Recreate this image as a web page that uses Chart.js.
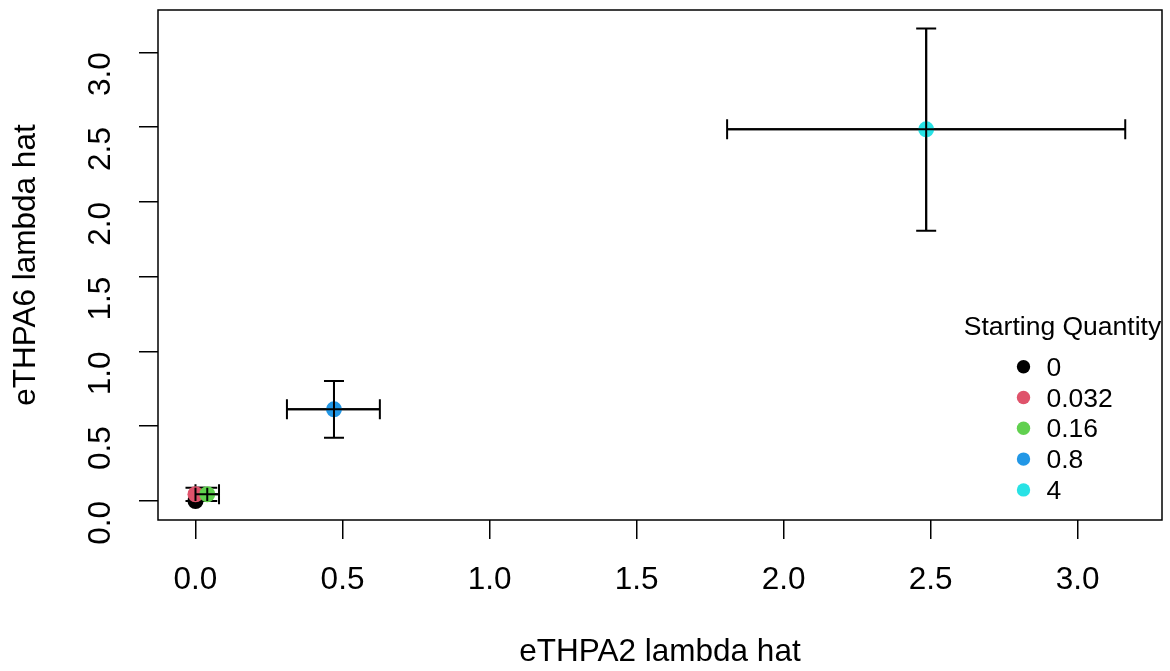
<!DOCTYPE html>
<html>
<head>
<meta charset="utf-8">
<script src="https://cdn.jsdelivr.net/npm/chart.js@4"></script>
<style>
  html, body { margin: 0; padding: 0; background: #fff; }
  #wrap { width: 1170px; height: 671px; }
</style>
</head>
<body>
<div id="wrap"><canvas id="c" width="1170" height="671"></canvas></div>
<script>
// values
const quantities = ['0', '0.032', '0.16', '0.8', '4'];
const colors = ['#000000', '#DF536B', '#61D04F', '#2297E6', '#28E2E5'];
const lambda2 = [0.0, 0.0, 0.04, 0.471, 2.485];
const lambda6 = [0.0, 0.045, 0.045, 0.613, 2.485];
const lambda2Low = [0.0, 0.0, 0.0, 0.311, 1.808];
const lambda2High = [0.0, 0.0, 0.08, 0.627, 3.162];
const lambda6Low = [0.0, 0.0, 0.0, 0.423, 1.807];
const lambda6High = [0.0, 0.089, 0.089, 0.802, 3.16];
const tickValues = [0, 0.5, 1.0, 1.5, 2.0, 2.5, 3.0];

const font = 'Liberation Sans, Arial, Helvetica, sans-serif';

function barPixels(chart, i) {
  const { x, y } = chart.scales;
  return {
    px: x.getPixelForValue(lambda2[i]),
    py: y.getPixelForValue(lambda6[i]),
    xl: x.getPixelForValue(lambda2Low[i]),
    xh: x.getPixelForValue(lambda2High[i]),
    yl: y.getPixelForValue(lambda6Low[i]),
    yh: y.getPixelForValue(lambda6High[i])
  };
}

// error bars: caps under the dots, the cross lines again on top
const errorBars = {
  id: 'errorBars',
  beforeDatasetsDraw(chart) {
    const ctx = chart.ctx;
    const cap = 10;
    ctx.save();
    ctx.strokeStyle = '#000';
    ctx.lineWidth = 2;
    for (let i = 0; i < quantities.length; i++) {
      const { px, py, xl, xh, yl, yh } = barPixels(chart, i);
      ctx.beginPath();
      if (xh - xl > 0.5) {
        ctx.moveTo(xl, py); ctx.lineTo(xh, py);
        ctx.moveTo(xl, py - cap); ctx.lineTo(xl, py + cap);
        ctx.moveTo(xh, py - cap); ctx.lineTo(xh, py + cap);
      }
      if (yl - yh > 0.5) {
        ctx.moveTo(px, yl); ctx.lineTo(px, yh);
        ctx.moveTo(px - cap, yl); ctx.lineTo(px + cap, yl);
        ctx.moveTo(px - cap, yh); ctx.lineTo(px + cap, yh);
      }
      ctx.stroke();
    }
    ctx.restore();
  },
  afterDatasetsDraw(chart) {
    const ctx = chart.ctx;
    ctx.save();
    ctx.strokeStyle = '#000';
    ctx.lineWidth = 2;
    for (let i = 0; i < quantities.length; i++) {
      const { px, py, xl, xh, yl, yh } = barPixels(chart, i);
      ctx.beginPath();
      if (xh - xl > 0.5) { ctx.moveTo(xl, py); ctx.lineTo(xh, py); }
      if (yl - yh > 0.5) { ctx.moveTo(px, yl); ctx.lineTo(px, yh); }
      ctx.stroke();
    }
    ctx.restore();
  }
};

// box round the plot and the legend inside it
const boxAndLegend = {
  id: 'boxAndLegend',
  afterDraw(chart) {
    const { ctx, chartArea: a } = chart;
    ctx.save();
    ctx.strokeStyle = '#000';
    ctx.lineWidth = 1.5;
    ctx.strokeRect(a.left, a.top, a.right - a.left, a.bottom - a.top);

    ctx.fillStyle = '#000';
    ctx.font = '26.5px ' + font;
    ctx.textBaseline = 'alphabetic';
    ctx.textAlign = 'center';
    ctx.fillText('Starting Quantity', 1062.5, 335);
    ctx.textAlign = 'left';
    for (let i = 0; i < quantities.length; i++) {
      const ly = 366.7 + i * 30.8;
      ctx.fillStyle = colors[i];
      ctx.beginPath();
      ctx.arc(1023.5, ly, 6.7, 0, Math.PI * 2);
      ctx.fill();
      ctx.fillStyle = '#000';
      ctx.fillText(quantities[i], 1046.5, ly + 9);
    }
    ctx.restore();
  }
};

const tickFont = { family: font, size: 31.5 };

new Chart(document.getElementById('c'), {
  type: 'scatter',
  data: {
    datasets: [{
      data: lambda2.map((v, i) => ({ x: v, y: lambda6[i] })),
      backgroundColor: colors,
      borderWidth: 0,
      pointRadius: 8,
      pointHoverRadius: 8
    }]
  },
  options: {
    responsive: false,
    animation: false,
    layout: { padding: { top: 10, right: 2, left: 0, bottom: 0 } },
    plugins: { legend: { display: false }, tooltip: { enabled: false } },
    scales: {
      x: {
        min: -0.1275, max: 3.287,
        afterBuildTicks: s => { s.ticks = tickValues.map(v => ({ value: v })); },
        afterFit: s => { s.height = 151; s.paddingLeft = 0; s.paddingRight = 0; },
        grid: { drawOnChartArea: false, color: '#000', lineWidth: 1.5, tickLength: 19, tickColor: '#000' },
        border: { display: false },
        ticks: {
          color: '#000', font: tickFont, padding: 22,
          maxRotation: 0, minRotation: 0,
          callback: v => Number(v).toFixed(1)
        },
        title: {
          display: true, text: 'eTHPA2 lambda hat', color: '#000',
          font: tickFont, padding: { top: 0, bottom: 0 }
        }
      },
      y: {
        min: -0.127, max: 3.283,
        afterBuildTicks: s => { s.ticks = tickValues.map(v => ({ value: v })); },
        afterFit: s => { s.width = 158; s.paddingTop = 0; s.paddingBottom = 0; },
        grid: { drawOnChartArea: false, color: '#000', lineWidth: 1.5, tickLength: 19, tickColor: '#000' },
        border: { display: false },
        ticks: {
          color: '#000', font: tickFont, padding: 38,
          minRotation: 90, maxRotation: 90,
          callback: v => Number(v).toFixed(1)
        },
        title: {
          display: true, text: 'eTHPA6 lambda hat', color: '#000',
          font: tickFont, padding: { top: 7, bottom: 0 }
        }
      }
    }
  },
  plugins: [errorBars, boxAndLegend]
});
</script>
</body>
</html>
